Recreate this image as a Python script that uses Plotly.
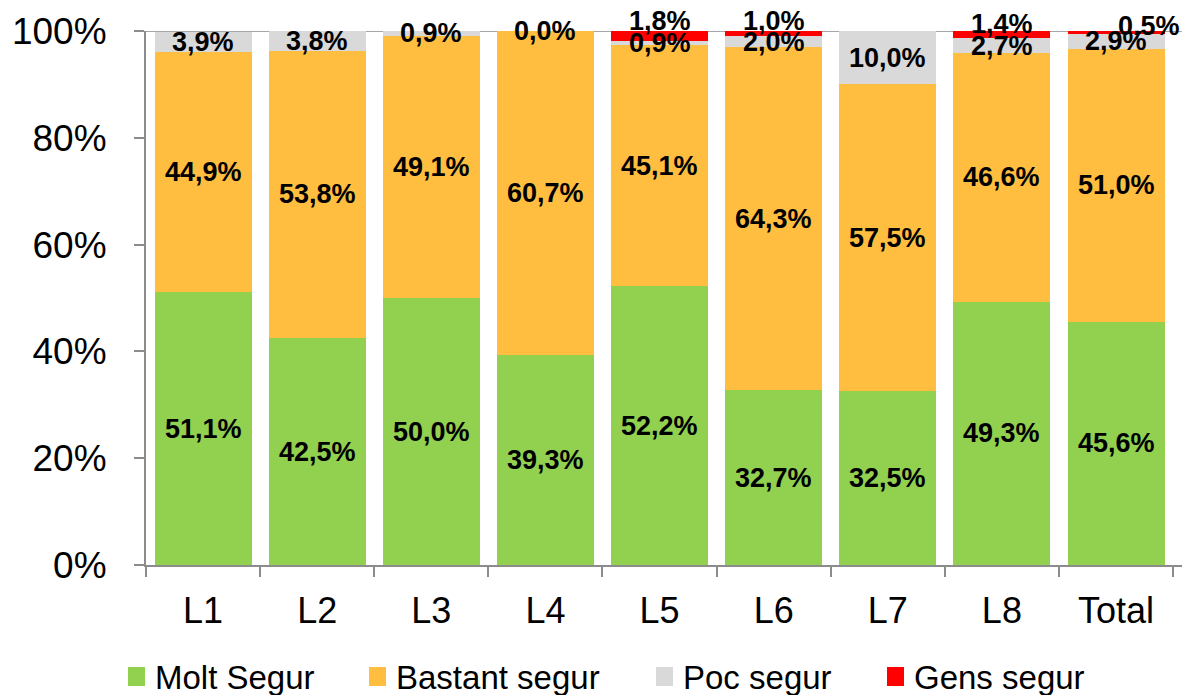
import plotly.graph_objects as go

# Categories and the share (%) of each answer per line
categories = ["L1", "L2", "L3", "L4", "L5", "L6", "L7", "L8", "Total"]
molt_segur = [51.1, 42.5, 50.0, 39.3, 52.2, 32.7, 32.5, 49.3, 45.6]
bastant_segur = [44.9, 53.8, 49.1, 60.7, 45.1, 64.3, 57.5, 46.6, 51.0]
poc_segur = [3.9, 3.8, 0.9, 0.0, 0.9, 2.0, 10.0, 2.7, 2.9]
gens_segur = [None, None, None, None, 1.8, 1.0, None, 1.4, 0.5]
y_ticks = [0, 20, 40, 60, 80, 100]

series = [
    ("Molt Segur", molt_segur, "#92D050"),
    ("Bastant segur", bastant_segur, "#FFBE40"),
    ("Poc segur", poc_segur, "#D9D9D9"),
    ("Gens segur", gens_segur, "#FF0000"),
]

# Pixel nudges for the small labels on top of the stacks (keeps them legible)
top_label_shift = {"L5": (0, 15), "L6": (0, 13), "L8": (0, 11), "Total": (33, 6)}

FONT = "Liberation Sans, Arial, sans-serif"
W, H = 1182, 695
M_L, M_R, M_T, M_B = 146, 0, 31, 130
PLOT_W = W - M_L - M_R
PLOT_H = H - M_T - M_B


def pct(v):
    return f"{v:.1f}".replace(".", ",") + "%"


def px_to_paper(px, py):
    return (px - M_L) / PLOT_W, (H - M_B - py) / PLOT_H


fig = go.Figure()
for name, vals, color in series:
    fig.add_trace(go.Bar(
        x=categories,
        y=[v if v is not None else 0 for v in vals],
        name=name,
        marker=dict(color=color, line=dict(width=0)),
        hoverinfo="skip",
        showlegend=False,
    ))

# Labels centred in each segment
annotations = []
base = [0.0] * len(categories)
for name, vals, color in series:
    for i, cat in enumerate(categories):
        v = vals[i]
        if v is None:
            continue
        xs, ys = 0, 0
        if name == "Gens segur":
            xs, ys = top_label_shift.get(cat, (0, 0))
        annotations.append(dict(
            x=cat, y=base[i] + v / 2, text=pct(v), showarrow=False,
            xshift=xs, yshift=ys,
            font=dict(family=FONT, size=27, color="#000000", weight="bold"),
        ))
        base[i] += v

# Legend row below the axis: square swatch followed by its name
shapes = [dict(
    type="line", xref="paper", yref="y", x0=0, x1=1, y0=100, y1=100,
    line=dict(color="#A6A6A6", width=2), layer="below",
)]
legend_swatch_x = [128, 369, 656, 887]
legend_y = 677
for (name, vals, color), sx in zip(series, legend_swatch_x):
    x0, y0 = px_to_paper(sx, legend_y + 9)
    x1, y1 = px_to_paper(sx + 17, legend_y - 10)
    shapes.append(dict(type="rect", xref="paper", yref="paper",
                       x0=x0, x1=x1, y0=y0, y1=y1,
                       fillcolor=color, line=dict(width=0)))
    tx, ty = px_to_paper(sx + 25, legend_y)
    annotations.append(dict(
        xref="paper", yref="paper", x=tx, y=ty, xanchor="left", yanchor="middle",
        text=name, showarrow=False,
        font=dict(family=FONT, size=33, color="#000000"),
    ))

fig.update_layout(
    width=W, height=H,
    margin=dict(l=M_L, r=M_R, t=M_T, b=M_B, autoexpand=False),
    paper_bgcolor="white", plot_bgcolor="white",
    barmode="stack", bargap=0.15,
    annotations=annotations,
    shapes=shapes,
    font=dict(family=FONT, color="#000000"),
    showlegend=False,
)

fig.update_yaxes(
    range=[0, 100], tickmode="array", tickvals=y_ticks,
    ticktext=[f"{t}%" for t in y_ticks],
    showgrid=False, zeroline=False, automargin=False,
    showline=True, linecolor="#8C8C8C", linewidth=2,
    ticks="outside", ticklen=10, tickcolor="#8C8C8C", tickwidth=2,
    ticklabelstandoff=20,
    tickfont=dict(family=FONT, size=37, color="#000000"),
)
fig.update_xaxes(
    categoryorder="array", categoryarray=categories,
    showgrid=False, zeroline=False, automargin=False,
    showline=True, linecolor="#8C8C8C", linewidth=2,
    ticks="outside", ticklen=10, tickcolor="#8C8C8C", tickwidth=2,
    tickson="boundaries", ticklabelstandoff=13,
    tickfont=dict(family=FONT, size=36, color="#000000"),
)

fig.write_html("out.html")
